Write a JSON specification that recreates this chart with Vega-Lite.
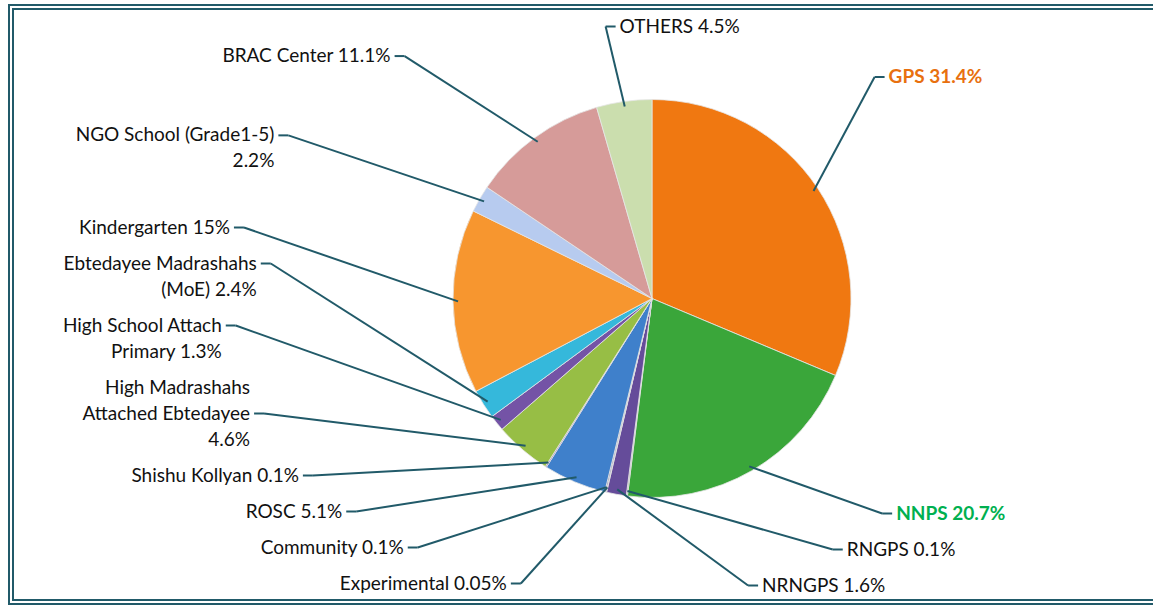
{
  "$schema": "https://vega.github.io/schema/vega-lite/v6.json",
  "width": 1145,
  "height": 601,
  "autosize": {"type": "none"},
  "padding": {"left": 8, "top": 4, "right": 0, "bottom": 0},
  "background": "#ffffff",
  "config": {"view": {"stroke": null}, "text": {"font": "Lato"}},
  "layer": [
    {
      "data": {"values": [{"k": 1}]},
      "layer": [
        {"mark": {"type": "rect", "fill": "transparent", "stroke": "#215A69", "strokeWidth": 12, "clip": true},
         "encoding": {"x": {"value": 0}, "x2": {"value": {"expr": "width + 12"}}, "y": {"value": 0}, "y2": {"value": "height"}}},
        {"mark": {"type": "rect", "fill": "transparent", "stroke": "#ffffff", "strokeWidth": 8, "clip": true},
         "encoding": {"x": {"value": 0}, "x2": {"value": {"expr": "width + 12"}}, "y": {"value": 0}, "y2": {"value": "height"}}},
        {"mark": {"type": "rect", "fill": "transparent", "stroke": "#215A69", "strokeWidth": 4, "clip": true},
         "encoding": {"x": {"value": 0}, "x2": {"value": {"expr": "width + 12"}}, "y": {"value": 0}, "y2": {"value": "height"}}}
      ]
    },
    {
      "data": {"values": [
        {"idx": 1, "cat": "GPS", "value": 31.4, "label": "GPS  31.4%"},
        {"idx": 2, "cat": "NNPS", "value": 20.7, "label": "NNPS 20.7%"},
        {"idx": 3, "cat": "RNGPS", "value": 0.1, "label": "RNGPS 0.1%"},
        {"idx": 4, "cat": "NRNGPS", "value": 1.6, "label": "NRNGPS 1.6%"},
        {"idx": 5, "cat": "Experimental", "value": 0.05, "label": "Experimental  0.05%"},
        {"idx": 6, "cat": "Community", "value": 0.1, "label": "Community  0.1%"},
        {"idx": 7, "cat": "ROSC", "value": 5.1, "label": "ROSC 5.1%"},
        {"idx": 8, "cat": "Shishu Kollyan", "value": 0.1, "label": "Shishu Kollyan  0.1%"},
        {"idx": 9, "cat": "High Madrashahs Attached Ebtedayee", "value": 4.6, "label": "High Madrashahs\nAttached Ebtedayee\n4.6%"},
        {"idx": 10, "cat": "High School Attach Primary", "value": 1.3, "label": "High School Attach\nPrimary 1.3%"},
        {"idx": 11, "cat": "Ebtedayee Madrashahs (MoE)", "value": 2.4, "label": "Ebtedayee Madrashahs\n(MoE) 2.4%"},
        {"idx": 12, "cat": "Kindergarten", "value": 15, "label": "Kindergarten 15%"},
        {"idx": 13, "cat": "NGO School (Grade1-5)", "value": 2.2, "label": "NGO School (Grade1-5)\n2.2%"},
        {"idx": 14, "cat": "BRAC Center", "value": 11.1, "label": "BRAC Center  11.1%"},
        {"idx": 15, "cat": "OTHERS", "value": 4.5, "label": "OTHERS 4.5%"}
      ]},
      "transform": [
        {"window": [{"op": "sum", "field": "value", "as": "cum"}], "sort": [{"field": "idx"}], "frame": [null, 0]},
        {"joinaggregate": [{"op": "sum", "field": "value", "as": "total"}]},
        {"calculate": "(datum.cum - datum.value / 2) / datum.total * 360", "as": "mid"},
        {"calculate": "(datum.mid < 192 || datum.mid > 345) ? 1 : -1", "as": "side"},
        {"calculate": "datum.mid > 345 ? datum.mid - 360 : datum.mid", "as": "ord"},
        {"calculate": "length(split(datum.label, '\\n'))", "as": "nl"},
        {"calculate": "datum.nl * 26 + 10", "as": "h"},
        {"calculate": "(datum.side < 0 ? 300 : 400) * cos(datum.mid * PI / 180)", "as": "y0"},
        {"calculate": "datum.side < 0 ? datum.y0 : -datum.y0", "as": "v0"},
        {"window": [{"op": "sum", "field": "h", "as": "ch"}], "groupby": ["side"], "sort": [{"field": "ord"}], "frame": [null, 0]},
        {"calculate": "datum.ch - datum.h / 2", "as": "s"},
        {"calculate": "datum.v0 - datum.s", "as": "k"},
        {"window": [{"op": "max", "field": "k", "as": "fmax"}], "groupby": ["side"], "sort": [{"field": "ord"}], "frame": [null, 0]},
        {"window": [{"op": "min", "field": "k", "as": "bmin"}], "groupby": ["side"], "sort": [{"field": "ord"}], "frame": [0, null]},
        {"joinaggregate": [{"op": "min", "field": "s", "as": "s0"}, {"op": "max", "field": "s", "as": "s1"}], "groupby": ["side"]},
        {"calculate": "min(max(datum.s + (datum.fmax + datum.bmin) / 2, (datum.side < 0 ? -285 : -272) + datum.s - datum.s0), (datum.side < 0 ? 275 : 287) - (datum.s1 - datum.s))", "as": "v"},
        {"calculate": "datum.side < 0 ? datum.v : -datum.v", "as": "ly"},
        {"calculate": "(62500 - datum.ly * datum.ly) > 0 ? sqrt(62500 - datum.ly * datum.ly) : -999", "as": "need"},
        {"calculate": "(datum.side < 0 ? 420 : 330) * sqrt(max(0, 1 - (datum.ly / 300) * (datum.ly / 300)))", "as": "ell"},
        {"calculate": "min(datum.ell, datum.ly > 0 ? datum.side * (datum.side < 0 ? 450 : 330) * sin(datum.mid * PI / 180) : 9999)", "as": "xa"},
        {"calculate": "datum.side * max(datum.xa, datum.need)", "as": "lx"},
        {"calculate": "datum.ly + (datum.nl == 2 ? 13 : 0)", "as": "lyl"},
        {"calculate": "datum.ly + (datum.nl - 1) * 13", "as": "ty"},
        {"calculate": "194 * sin(datum.mid * PI / 180)", "as": "ex"},
        {"calculate": "194 * cos(datum.mid * PI / 180)", "as": "ey"},
        {"calculate": "datum.lx + datum.side * 10", "as": "hx"},
        {"calculate": "datum.lx + datum.side * 14", "as": "tx"}
      ],
      "layer": [
        {
          "mark": {"type": "arc", "outerRadius": 199, "stroke": "#e6e6e6", "strokeWidth": 0.8},
          "encoding": {
            "theta": {"field": "value", "type": "quantitative", "stack": true},
            "order": {"field": "idx", "type": "quantitative"},
            "color": {"field": "cat", "type": "nominal", "legend": null,
              "scale": {
                "domain": ["GPS", "NNPS", "RNGPS", "NRNGPS", "Experimental", "Community", "ROSC", "Shishu Kollyan", "High Madrashahs Attached Ebtedayee", "High School Attach Primary", "Ebtedayee Madrashahs (MoE)", "Kindergarten", "NGO School (Grade1-5)", "BRAC Center", "OTHERS"],
                "range": ["#F07811", "#3AA63A", "#9E9E9E", "#654C9A", "#7F7F7F", "#5A5A8F", "#3F80CB", "#8A6FB5", "#97BE45", "#7453A6", "#35B8DB", "#F7962F", "#B7CBEF", "#D69B99", "#CBDEAE"]
              }},
            "x": {"datum": 0, "type": "quantitative", "scale": {"domain": [-644, 501], "nice": false, "zero": false}, "axis": null},
            "y": {"datum": 0, "type": "quantitative", "scale": {"domain": [-306.5, 294.5], "nice": false, "zero": false}, "axis": null}
          }
        },
        {
          "mark": {"type": "rule", "stroke": "#215A69", "strokeWidth": 2},
          "encoding": {
            "x": {"field": "ex", "type": "quantitative", "scale": {"domain": [-644, 501], "nice": false, "zero": false}, "axis": null},
            "y": {"field": "ey", "type": "quantitative", "scale": {"domain": [-306.5, 294.5], "nice": false, "zero": false}, "axis": null},
            "x2": {"field": "lx"},
            "y2": {"field": "lyl"}
          }
        },
        {
          "mark": {"type": "rule", "stroke": "#215A69", "strokeWidth": 2},
          "encoding": {
            "x": {"field": "lx", "type": "quantitative", "scale": {"domain": [-644, 501], "nice": false, "zero": false}, "axis": null},
            "y": {"field": "lyl", "type": "quantitative", "scale": {"domain": [-306.5, 294.5], "nice": false, "zero": false}, "axis": null},
            "x2": {"field": "hx"},
            "y2": {"field": "lyl"}
          }
        },
        {
          "transform": [{"filter": "datum.side < 0"}],
          "mark": {"type": "text", "align": "right", "baseline": "middle", "fontSize": 19, "lineBreak": "\n", "lineHeight": 26, "color": "#111111"},
          "encoding": {
            "x": {"field": "tx", "type": "quantitative", "scale": {"domain": [-644, 501], "nice": false, "zero": false}, "axis": null},
            "y": {"field": "ty", "type": "quantitative", "scale": {"domain": [-306.5, 294.5], "nice": false, "zero": false}, "axis": null},
            "text": {"field": "label", "type": "nominal"}
          }
        },
        {
          "transform": [{"filter": "datum.side > 0 && datum.cat !== 'GPS' && datum.cat !== 'NNPS'"}],
          "mark": {"type": "text", "align": "left", "baseline": "middle", "fontSize": 19, "lineBreak": "\n", "lineHeight": 26, "color": "#111111"},
          "encoding": {
            "x": {"field": "tx", "type": "quantitative", "scale": {"domain": [-644, 501], "nice": false, "zero": false}, "axis": null},
            "y": {"field": "ty", "type": "quantitative", "scale": {"domain": [-306.5, 294.5], "nice": false, "zero": false}, "axis": null},
            "text": {"field": "label", "type": "nominal"}
          }
        },
        {
          "transform": [{"filter": "datum.cat === 'GPS' || datum.cat === 'NNPS'"}],
          "mark": {"type": "text", "align": "left", "baseline": "middle", "fontSize": 19, "fontWeight": "bold"},
          "encoding": {
            "x": {"field": "tx", "type": "quantitative", "scale": {"domain": [-644, 501], "nice": false, "zero": false}, "axis": null},
            "y": {"field": "ty", "type": "quantitative", "scale": {"domain": [-306.5, 294.5], "nice": false, "zero": false}, "axis": null},
            "text": {"field": "label", "type": "nominal"},
            "color": {"condition": {"test": "datum.cat === 'GPS'", "value": "#E8700F"}, "value": "#00B050"}
          }
        }
      ]
    }
  ]
}
